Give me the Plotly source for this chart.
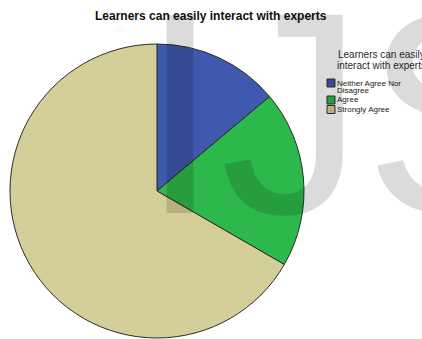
import textwrap
import plotly.graph_objects as go

# Survey responses: "Learners can easily interact with experts"
question = "Learners can easily interact with experts"
labels = ["Neither Agree Nor Disagree", "Agree", "Strongly Agree"]
counts = [5, 7, 24]
colors = ["#3E59AD", "#2DB84B", "#D4CF99"]

W, H = 422, 339
FONT = "Liberation Sans, Arial"

fig = go.Figure()
fig.add_trace(go.Pie(
    labels=labels,
    values=counts,
    sort=False,
    direction="clockwise",
    rotation=0,
    textinfo="none",
    hoverinfo="label+value+percent",
    marker=dict(colors=colors, line=dict(color="#2b2b2b", width=1)),
    domain=dict(x=[10 / W, 304 / W], y=[1 - 338 / H, 1 - 44 / H]),
    showlegend=False,
))

annotations = []
shapes = []

# chart title
annotations.append(dict(
    text=f"<b>{question}</b>", x=211 / W, y=1 - 16 / H, xref="paper", yref="paper",
    xanchor="center", yanchor="middle", showarrow=False,
    font=dict(family=FONT, size=12, color="#111111"),
))

# legend title (two centred lines)
for i, line in enumerate(textwrap.wrap(question, 21)):
    annotations.append(dict(
        text=line, x=381 / W, y=1 - (55 + 10 * i) / H, xref="paper", yref="paper",
        xanchor="center", yanchor="middle", showarrow=False, borderpad=0,
        font=dict(family=FONT, size=10, color="#2a2a2a"),
    ))

# legend entries: swatch + wrapped label
y = 83
for lab, col in zip(labels, colors):
    lines = textwrap.wrap(lab, 17)
    shapes.append(dict(
        type="rect", xref="paper", yref="paper",
        x0=327 / W, x1=335 / W, y0=1 - (y + 4) / H, y1=1 - (y - 4) / H,
        fillcolor=col, line=dict(color="#333333", width=1),
    ))
    for j, line in enumerate(lines):
        annotations.append(dict(
            text=line, x=335.5 / W, y=1 - (y + 7.5 * j) / H, xref="paper", yref="paper",
            xanchor="left", yanchor="middle", showarrow=False, borderpad=0,
            font=dict(family=FONT, size=8, color="#1a1a1a"),
        ))
    y += 7.5 * (len(lines) - 1) + 9.5

# translucent watermark lettering over the chart
annotations.append(dict(
    text="IJS", x=139 / W, y=(H + 49) / H, xref="paper", yref="paper",
    xanchor="left", yanchor="top", showarrow=False, borderpad=0,
    font=dict(family=FONT, size=288, color="rgba(0,0,0,0.14)"),
))

fig.update_layout(
    width=W, height=H,
    margin=dict(l=0, r=0, t=0, b=0),
    paper_bgcolor="white", plot_bgcolor="white",
    annotations=annotations, shapes=shapes,
)

fig.write_html("out.html")
